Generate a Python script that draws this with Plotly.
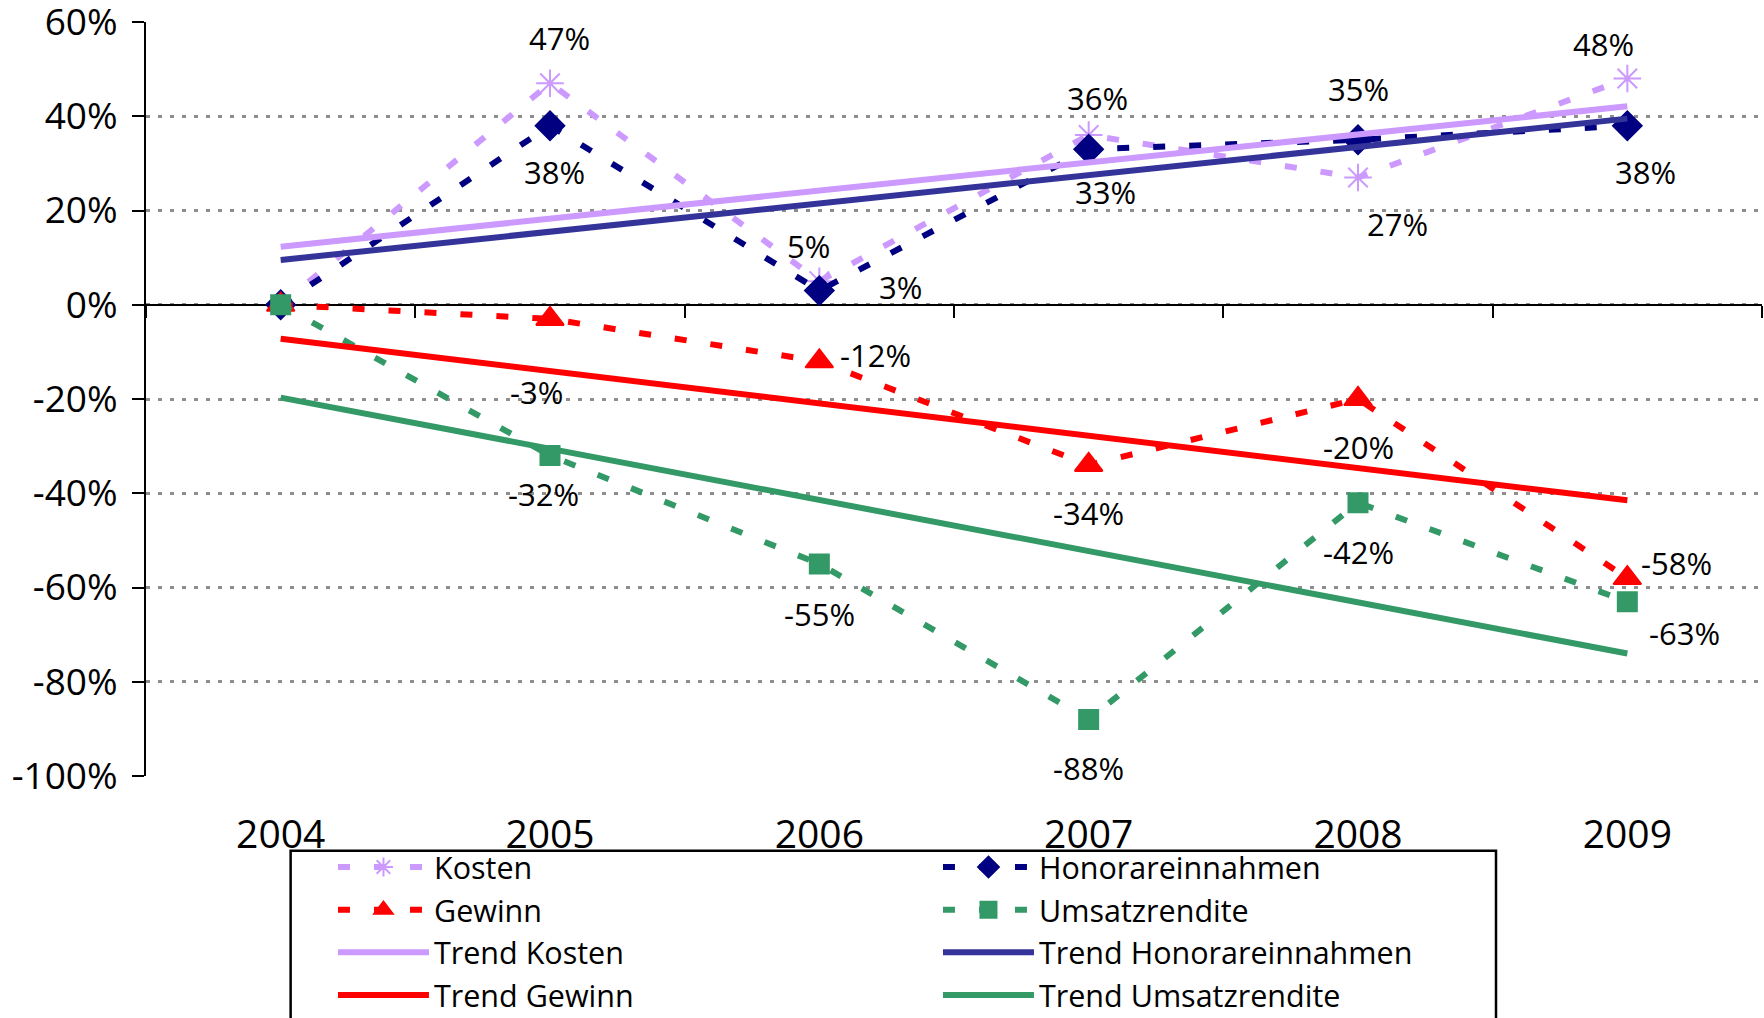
import plotly.graph_objects as go

# ---- data -------------------------------------------------------------
years = ["2004", "2005", "2006", "2007", "2008", "2009"]

kosten = [0, 47, 5, 36, 27, 48]
honorar = [0, 38, 3, 33, 35, 38]
gewinn = [0, -3, -12, -34, -20, -58]
umsatz = [0, -32, -55, -88, -42, -63]

# linear trend lines: value at first and last year
trend_years = ["2004", "2009"]
trend_kosten = [12.3, 42.1]
trend_honorar = [9.5, 39.5]
trend_gewinn = [-7.2, -41.5]
trend_umsatz = [-19.7, -74.0]

y_ticks = [-100, -80, -60, -40, -20, 0, 20, 40, 60]
y_tick_labels = [f"{v}%" for v in y_ticks]

# ---- styling ----------------------------------------------------------
FONT = "Open Sans"
C_KOSTEN = "#CC99FF"
C_HONORAR = "#000080"
C_HONORAR_TREND = "#333399"
C_GEWINN = "#FF0000"
C_UMSATZ = "#339966"
DASH = "12px,24px"

# pixel offsets (dx right, dy down) of the value labels, years 2005..2009
off_kosten = [(9, -45), (-11, -35), (9, -37), (39, 46), (-24, -35)]
off_honorar = [(4, 46), (81, -4), (17, 43), (0, -51), (18, 46)]
off_gewinn = [(-14, 73), (56, -6), (0, 48), (0, 48), (49, -15)]
off_umsatz = [(-7, 38), (0, 50), (0, 49), (0, 49), (57, 31)]

fig = go.Figure()

series = [
    ("Kosten", kosten, C_KOSTEN, "asterisk-open", 23),
    ("Honorareinnahmen", honorar, C_HONORAR, "diamond", 22),
    ("Gewinn", gewinn, C_GEWINN, "triangle-up", 24),
    ("Umsatzrendite", umsatz, C_UMSATZ, "square", 19),
]
for name, vals, color, symbol, size in series:
    fig.add_trace(go.Scatter(
        x=years, y=vals, name=name, mode="lines+markers",
        line=dict(color=color, width=6, dash=DASH),
        marker=dict(symbol=symbol, size=size, color=color,
                    line=dict(color=color, width=2)),
        hoverinfo="skip",
    ))

trends = [
    ("Trend Kosten", trend_kosten, C_KOSTEN),
    ("Trend Honorareinnahmen", trend_honorar, C_HONORAR_TREND),
    ("Trend Gewinn", trend_gewinn, C_GEWINN),
    ("Trend Umsatzrendite", trend_umsatz, C_UMSATZ),
]
for name, vals, color in trends:
    fig.add_trace(go.Scatter(
        x=trend_years, y=vals, name=name, mode="lines",
        line=dict(color=color, width=6), hoverinfo="skip",
    ))

# helper trace so the zero-line category axis is drawn
fig.add_trace(go.Scatter(x=years, y=[None] * len(years), xaxis="x2",
                         showlegend=False, hoverinfo="skip", mode="lines"))

# value labels (x given as category index)
annotations = []
for vals, offs in [(kosten, off_kosten), (honorar, off_honorar),
                   (gewinn, off_gewinn), (umsatz, off_umsatz)]:
    for i, (v, (dx, dy)) in enumerate(zip(vals[1:], offs), start=1):
        annotations.append(dict(
            x=i, y=v, xref="x", yref="y", text=f"{v}%", showarrow=False,
            xshift=dx, yshift=-dy,
            font=dict(family=FONT, size=31, color="black"),
        ))

fig.update_layout(
    width=1764, height=1018,
    margin=dict(l=146, r=2, t=22, b=242, autoexpand=False),
    paper_bgcolor="white", plot_bgcolor="white",
    font=dict(family=FONT, color="black"),
    showlegend=True,
    legend=dict(
        orientation="h", x=0.1157, xanchor="left", y=-0.0858, yanchor="top",
        entrywidth=499, entrywidthmode="pixels", itemwidth=91,
        font=dict(family=FONT, size=30.5, color="black"),
        bgcolor="rgba(0,0,0,0)", borderwidth=0,
    ),
    xaxis=dict(
        type="category", range=[-0.5, 5.5], showgrid=False, showline=False,
        ticks="", tickfont=dict(family=FONT, size=39, color="black"),
        ticklabelstandoff=32, zeroline=False,
    ),
    xaxis2=dict(
        type="category", overlaying="x", anchor="free", position=0.625,
        range=[-0.5, 5.5], tickson="boundaries", ticks="outside",
        ticklen=12, tickwidth=2, tickcolor="black",
        showline=True, linecolor="black", linewidth=2,
        showticklabels=False, showgrid=False, layer="below traces",
    ),
    yaxis=dict(
        range=[-100, 60], tickmode="array", tickvals=y_ticks,
        ticktext=y_tick_labels, ticklabeloverflow="allow",
        tickfont=dict(family=FONT, size=37, color="black"),
        ticks="outside", ticklen=12, tickwidth=2, tickcolor="black",
        showline=True, linecolor="black", linewidth=2,
        showgrid=True, gridcolor="#8e8e8e", gridwidth=3, griddash="4px,8px",
        zeroline=False, ticklabelstandoff=7, layer="below traces",
    ),
    annotations=annotations,
    shapes=[dict(
        type="rect", xref="paper", yref="paper",
        x0=0.0895, x1=0.8354, y0=-0.0991, y1=-0.34,
        line=dict(color="black", width=2.5), fillcolor="rgba(0,0,0,0)",
    )],
)

fig.write_html("out.html")
